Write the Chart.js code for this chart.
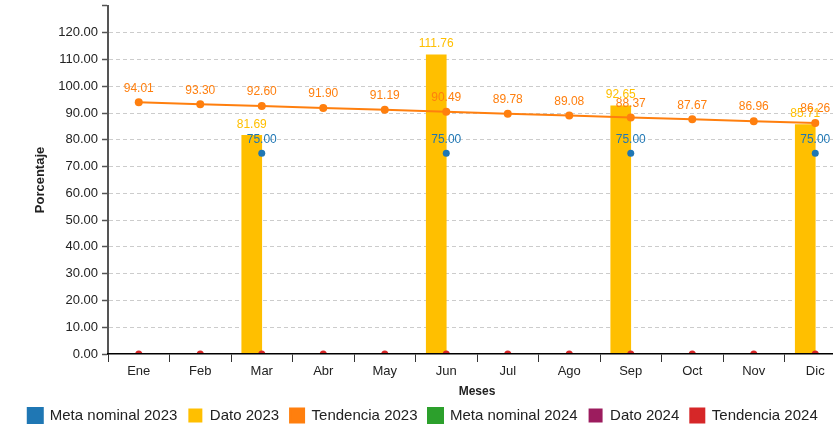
<!DOCTYPE html>
<html>
<head>
<meta charset="utf-8">
<script src="https://cdn.jsdelivr.net/npm/chart.js@4.4.1/dist/chart.umd.min.js"></script>
<style>
html,body{margin:0;padding:0;overflow:hidden;background:#fff;width:833px;height:430px}
#wrap{position:absolute;left:0;top:0;width:850px;height:433px}
</style>
</head>
<body>
<div id="wrap"><canvas id="c" width="850" height="433"></canvas></div>
<script>
const meses = ['Ene','Feb','Mar','Abr','May','Jun','Jul','Ago','Sep','Oct','Nov','Dic'];
const metaNominal2023 = [null,null,75,null,null,75,null,null,75,null,null,75];
const dato2023 = [null,null,81.69,null,null,111.76,null,null,92.65,null,null,85.71];
const tendencia2023 = [94.01,93.30,92.60,91.90,91.19,90.49,89.78,89.08,88.37,87.67,86.96,86.26];
const metaNominal2024 = [null,null,null,null,null,null,null,null,null,null,null,null];
const dato2024 = [0,0,0,0,0,0,0,0,0,0,0,0];
const tendencia2024 = [0,0,0,0,0,0,0,0,0,0,0,0];
const yMin = 0, yMax = 130, yStep = 10;

const FONT = '"Liberation Sans", Arial, sans-serif';
const C = {
  blue:'#1f77b4', yellow:'#ffbf00', orange:'#ff7f0e',
  green:'#2ca02c', purple:'#9c1c5e', red:'#d62728'
};

const labelPlugin = {
  id:'valueLabels',
  afterDatasetsDraw(chart){
    const ctx = chart.ctx;
    ctx.save();
    ctx.font = '12px ' + FONT;
    ctx.textAlign = 'center';
    ctx.textBaseline = 'middle';
    chart.data.datasets.forEach((ds,i)=>{
      if(!ds.showLabels) return;
      const meta = chart.getDatasetMeta(i);
      meta.data.forEach((el,j)=>{
        const v = ds.data[j];
        if(v === null || v === undefined || v === 0) return;
        const off = meta.type === 'bar' ? 11 : 14;
        ctx.fillStyle = ds.labelColor;
        ctx.fillText(v.toFixed(2), el.x, el.y - off);
      });
    });
    ctx.restore();
  }
};

new Chart(document.getElementById('c'), {
  type:'bar',
  data:{
    labels: meses,
    datasets:[
      {type:'line', label:'Meta nominal 2023', data:metaNominal2023, showLine:false,
       backgroundColor:C.blue, borderColor:C.blue, pointRadius:3.5, pointBorderWidth:0,
       order:0, showLabels:true, labelColor:C.blue},
      {type:'bar', label:'Dato 2023', data:dato2023, backgroundColor:C.yellow, borderColor:C.yellow,
       borderWidth:0, barThickness:20, order:10, showLabels:true, labelColor:C.yellow},
      {type:'line', label:'Tendencia 2023', data:tendencia2023, borderColor:C.orange, backgroundColor:C.orange,
       borderWidth:2, pointRadius:4, pointBorderWidth:0, tension:0, order:1, showLabels:true, labelColor:C.orange},
      {type:'line', label:'Meta nominal 2024', data:metaNominal2024, showLine:false,
       backgroundColor:C.green, borderColor:C.green, pointRadius:3.5, pointBorderWidth:0, order:2},
      {type:'bar', label:'Dato 2024', data:dato2024, backgroundColor:C.purple, borderColor:C.purple,
       borderWidth:0, barThickness:20, order:11},
      {type:'line', label:'Tendencia 2024', data:tendencia2024, borderColor:C.red, backgroundColor:C.red,
       borderWidth:2, pointRadius:3.5, pointBorderWidth:0, order:3, clip:0}
    ]
  },
  options:{
    responsive:false,
    animation:false,
    devicePixelRatio:1,
    layout:{padding:{left:0, right:4, top:2, bottom:0}},
    plugins:{
      legend:{
        position:'bottom',
        labels:{
          boxWidth:14, boxHeight:14, padding:11, color:'#222',
          font:{family:FONT, size:15},
          sort:(a,b)=>a.datasetIndex-b.datasetIndex
        }
      },
      tooltip:{enabled:false},
      title:{display:false}
    },
    scales:{
      x:{
        type:'category',
        offset:true,
        grid:{display:true, drawOnChartArea:false, drawTicks:true, tickLength:8, tickColor:'#333', offset:true},
        border:{display:true, color:'#000', width:1.5, z:1},
        ticks:{color:'#222', font:{family:FONT, size:13}, padding:2, maxRotation:0, autoSkip:false},
        title:{display:true, text:'Meses', color:'#222', font:{family:FONT, size:12, weight:'bold'}, padding:{top:3, bottom:-2}}
      },
      y:{
        min:yMin, max:yMax,
        afterFit(scale){ scale.width = 108; },
        grid:{
          color:(c)=> (c.tick && (c.tick.value === yMin || c.tick.value === yMax)) ? 'rgba(0,0,0,0)' : '#cccccc',
          lineWidth:1, tickColor:'#555', tickLength:6, tickBorderDash:[], tickWidth:1.5
        },
        border:{display:true, color:'#555', width:2, dash:[4,3]},
        ticks:{
          stepSize:yStep, color:'#222', padding:4,
          font:{family:FONT, size:13, lineHeight:0.3},
          callback:(v)=> v === yMax ? '' : Number(v).toFixed(2)
        },
        title:{display:true, text:'Porcentaje', color:'#222', font:{family:FONT, size:13, weight:'bold'}, padding:{top:33, bottom:4}}
      }
    }
  },
  plugins:[labelPlugin]
});
</script>
</body>
</html>
